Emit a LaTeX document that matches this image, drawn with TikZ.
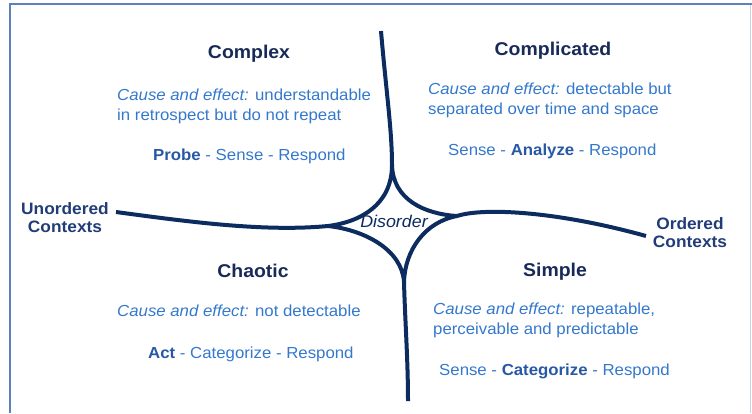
\documentclass[tikz,border=0pt]{standalone}
\usepackage{fontspec}
\setmainfont{Liberation Sans}[FakeStretch=1.05]

\definecolor{linenavy}{RGB}{12,44,95}
\definecolor{titlenavy}{RGB}{24,42,88}
\definecolor{ctxnavy}{RGB}{34,60,120}
\definecolor{bodyblue}{RGB}{52,120,205}
\definecolor{boldblue}{RGB}{38,88,165}
\definecolor{framesteel}{RGB}{92,130,186}
\definecolor{framegray}{RGB}{200,210,224}

\begin{document}
\begin{tikzpicture}[x=1pt, y=-1pt, inner sep=0pt,
  quadtitle/.style={anchor=base, text=titlenavy, font=\bfseries\fontsize{18.5}{22}\selectfont},
  causetext/.style={anchor=north west, align=left, text=bodyblue, font=\fontsize{16}{19.5}\selectfont},
  approach/.style={anchor=base west, text=bodyblue, font=\fontsize{16}{19.5}\selectfont},
  ctxlabel/.style={anchor=north, align=center, text=ctxnavy, font=\bfseries\fontsize{16.5}{18.6}\selectfont},
  boundary/.style={draw=linenavy, line width=4pt, line join=round}]
  \useasboundingbox (0,0) rectangle (752,413);
  % frame
  \draw[framesteel, line width=2pt] (10,413) -- (10,4) -- (752,4);
  \draw[framegray, line width=1.5pt] (750.5,5) -- (750.5,413);

  % ends and cusps
  \coordinate (topend) at (381,31);
  \coordinate (botend) at (408,401);
  \coordinate (leftend) at (116,212);
  \coordinate (rightend) at (646,236);
  \coordinate (tcusp) at (392,165);
  \coordinate (lcusp) at (328,226);
  \coordinate (rcusp) at (457,216);
  \coordinate (bcusp) at (404,282);

  \draw[boundary] (topend) .. controls +(5,59) and +(0,-35) .. (tcusp);
  \draw[boundary] (leftend) .. controls +(74,10) and +(-63,6) .. (lcusp);
  \draw[boundary] (rcusp) .. controls +(28,-9) and +(-86,-24) .. (rightend);
  \draw[boundary] (bcusp) .. controls +(1,38) and +(0,-41) .. (botend);
  \draw[boundary] (tcusp) .. controls +(0,40) and +(32,-4) .. (lcusp)
    .. controls +(37,4) and +(-2,-32) .. (bcusp)
    .. controls +(1,-32) and +(-32,6) .. (rcusp)
    .. controls +(-32,-2) and +(1,35) .. (tcusp);

  \node[anchor=base, text=linenavy, font=\itshape\fontsize{17}{20}\selectfont] (disorder) at (394,227) {Disorder};

  \node[ctxlabel] (unordered) at (65,202) {Unordered\\Contexts};
  \node[ctxlabel] (ordered) at (690,217) {Ordered\\Contexts};

  \node[quadtitle] (complex) at (249,58) {Complex};
  \node[causetext] (complexcause) at (117,89) {\textit{Cause and effect:} understandable\\in retrospect but do not repeat};
  \node[approach] (complexact) at (153,160) {\textcolor{boldblue}{\bfseries Probe} - Sense - Respond};

  \node[quadtitle] (complicated) at (553,55) {Complicated};
  \node[causetext] (complicatedcause) at (428,83) {\textit{Cause and effect:} detectable but\\separated over time and space};
  \node[approach] (complicatedact) at (448,155) {Sense - \textcolor{boldblue}{\bfseries Analyze} - Respond};

  \node[quadtitle] (chaotic) at (253,277) {Chaotic};
  \node[causetext] (chaoticcause) at (117,305) {\textit{Cause and effect:} not detectable};
  \node[approach] (chaoticact) at (148,358) {\textcolor{boldblue}{\bfseries Act} - Categorize - Respond};

  \node[quadtitle] (simple) at (555,276) {Simple};
  \node[causetext] (simplecause) at (433,303) {\textit{Cause and effect:} repeatable,\\perceivable and predictable};
  \node[approach] (simpleact) at (439,375) {Sense - \textcolor{boldblue}{\bfseries Categorize} - Respond};
\end{tikzpicture}
\end{document}
